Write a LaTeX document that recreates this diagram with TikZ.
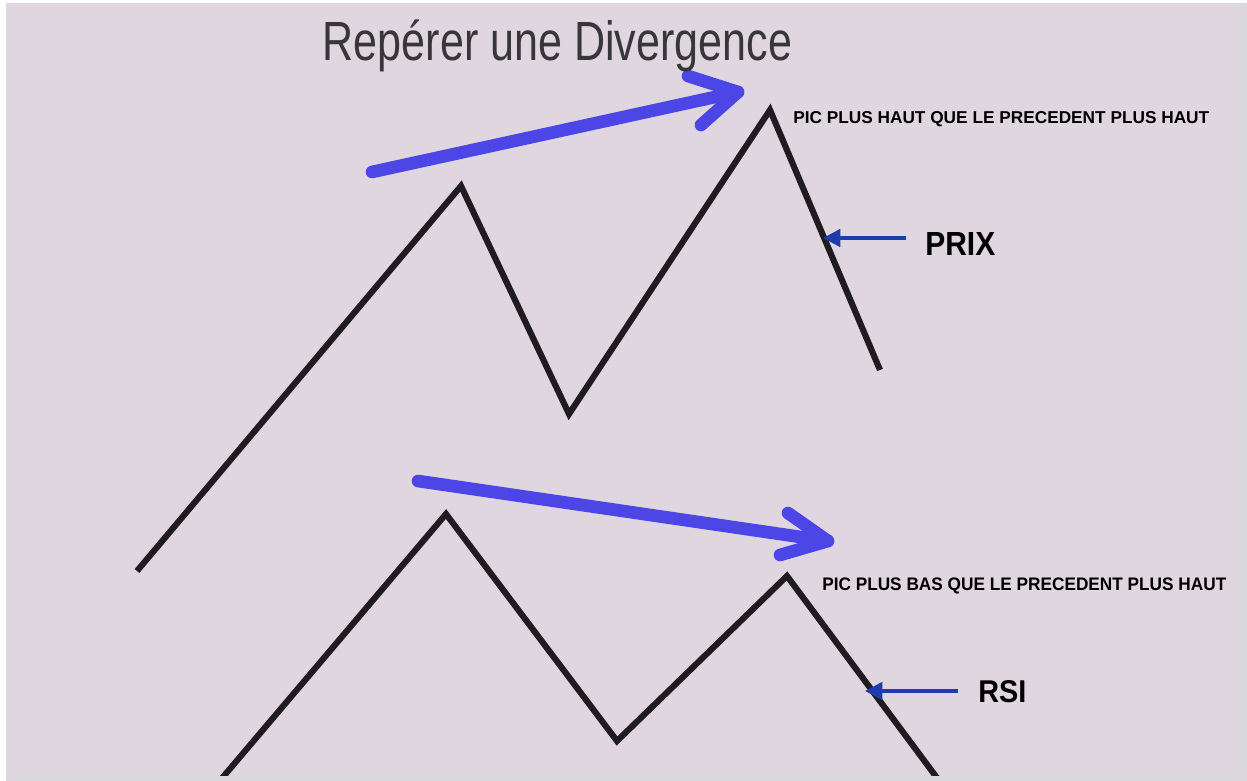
\documentclass[tikz,border=0pt]{standalone}
\usepackage{fontspec}
\setmainfont{Liberation Sans}
\usetikzlibrary{arrows.meta}
\definecolor{bgpink}{RGB}{224,214,223}
\definecolor{edgegray}{RGB}{218,216,220}
\definecolor{titlegray}{RGB}{55,55,58}
\definecolor{bigblue}{RGB}{76,70,230}
\definecolor{smallblue}{RGB}{30,60,172}
\definecolor{zig}{RGB}{30,28,32}
\tikzset{
  zigzag/.style={draw=zig, line width=4.6pt, line join=miter},
  bigarrow/.style={draw=bigblue, line width=9.5pt, line cap=round, line join=round},
  smallarrow/.style={draw=smallblue, line width=2.8pt, -{Triangle[length=13pt,width=13pt]}},
  lbl/.style={inner sep=0pt, text=black},
}
\begin{document}
\begin{tikzpicture}[x=0.75pt, y=-0.75pt]
\useasboundingbox (0,0) rectangle (1247,781);
% background
\fill[white] (0,0) rectangle (1247,781);
\fill[edgegray] (6,3) rectangle (1247,781);
\fill[bgpink] (6,3) rectangle (1240,775);

\begin{scope}
\clip (6,3) rectangle (1240,775);
% price zigzag
\coordinate (p0) at (137,571);
\coordinate (p1) at (461,186);
\coordinate (p2) at (569,414);
\coordinate (p3) at (770,110);
\coordinate (p4) at (880,370);
\draw[zigzag] (p0) -- (p1) -- (p2) -- (p3) -- (p4);
% rsi zigzag
\coordinate (r0) at (212,790);
\coordinate (r1) at (446,514);
\coordinate (r2) at (617,741);
\coordinate (r3) at (787,576);
\coordinate (r4) at (946,790);
\draw[zigzag] (r0) -- (r1) -- (r2) -- (r3) -- (r4);
\end{scope}

% big blue arrows
\coordinate (a1s) at (372,172);
\coordinate (a1t) at (738,92);
\coordinate (a1u) at (688,76);
\coordinate (a1l) at (701,125);
\draw[bigarrow] (a1s) -- (a1t);
\draw[bigarrow] (a1u) -- (a1t) -- (a1l);

\coordinate (a2s) at (418,481);
\coordinate (a2t) at (828,541);
\coordinate (a2u) at (788,513);
\coordinate (a2l) at (780,555);
\draw[bigarrow] (a2s) -- (a2t);
\draw[bigarrow] (a2u) -- (a2t) -- (a2l);

% title
\node[lbl, text=titlegray, anchor=base] (title) at (557.5,61)
  {\resizebox{352pt}{30.5pt}{Repérer une Divergence}};

% labels
\node[lbl, anchor=base west] (pichaut) at (793,124)
  {\resizebox{312pt}{9pt}{\bfseries PIC PLUS HAUT QUE LE PRECEDENT PLUS HAUT}};
\node[lbl, anchor=base west] (picbas) at (822,590)
  {\resizebox{303pt}{9.5pt}{\bfseries PIC PLUS BAS QUE LE PRECEDENT PLUS HAUT}};
\node[lbl, anchor=base west] (prix) at (925,256)
  {\resizebox{52.5pt}{17.25pt}{\bfseries PRIX}};
\node[lbl, anchor=base west] (rsi) at (978,702)
  {\resizebox{36pt}{16.5pt}{\bfseries RSI}};

% small arrows
\coordinate (prixtip) at (823,238);
\coordinate (prixstart) at (906,238);
\draw[smallarrow] (prixstart) -- (prixtip);
\coordinate (rsitip) at (865,691);
\coordinate (rsistart) at (958,691);
\draw[smallarrow] (rsistart) -- (rsitip);
\end{tikzpicture}
\end{document}
